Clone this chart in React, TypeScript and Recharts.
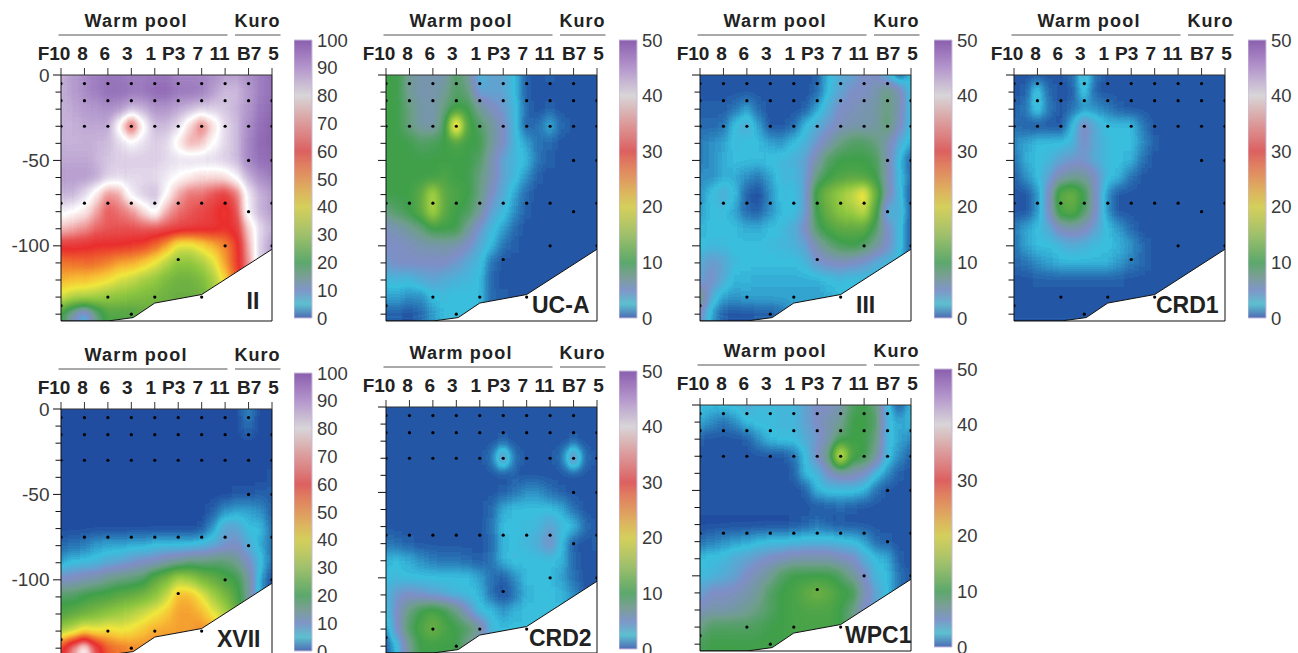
import { Area, Bar, BarChart, ComposedChart, ReferenceLine, Scatter, XAxis, YAxis } from "recharts";

const STATIONS = ["F10", "8", "6", "3", "1", "P3", "7", "11", "B7", "5"];
const DEPTH_TICKS = [0, -10, -20, -30, -40, -50, -60, -70, -80, -90, -100, -110, -120, -130, -140];
const GRID_DEPTHS = DEPTH_TICKS;
const GRID_COLUMNS = [0, 0.5, 1, 1.5, 2, 2.5, 3, 3.5, 4, 4.5, 5, 5.5, 6, 6.5, 7, 7.5, 8, 8.5, 9];

const FLOOR_X = [0, 2, 3.08, 4, 6, 9];
const FLOOR_DEPTH = [-144, -144, -142, -133.5, -128.5, -102];

// sampling depths per station
const SAMPLES = [
  [-5, -15, -30, -75, -135],
  [-5, -15, -30, -75, -145],
  [-5, -15, -30, -75, -130],
  [-5, -15, -30, -75, -140],
  [-5, -15, -30, -75, -130],
  [-5, -15, -30, -75, -108],
  [-5, -15, -30, -75, -130],
  [-5, -15, -30, -75, -100],
  [-5, -15, -30, -50, -80],
  [-15, -30, -50, -75, -100],
];

const GRID_II = [
  [88, 90, 92, 94, 95, 95, 94, 94, 95, 95, 93, 93, 93, 92, 90, 90, 92, 94, 96],
  [88, 90, 92, 94, 96, 96, 95, 95, 97, 97, 95, 95, 94, 90, 87, 87, 90, 94, 96],
  [88, 89, 90, 91, 92, 91, 87, 88, 91, 91, 89, 87, 85, 85, 86, 88, 91, 95, 97],
  [88, 88, 89, 89, 89, 79, 64, 79, 87, 87, 84, 76, 68, 76, 84, 87, 92, 96, 98],
  [88, 88, 88, 88, 87, 84, 81, 83, 85, 84, 78, 72, 74, 80, 84, 87, 93, 97, 98],
  [89, 89, 89, 88, 86, 85, 85, 85, 85, 84, 83, 84, 84, 84, 85, 87, 93, 96, 97],
  [90, 90, 90, 89, 85, 84, 84, 84, 84, 82, 80, 78, 76, 76, 77, 81, 88, 92, 94],
  [88, 88, 84, 78, 70, 72, 82, 85, 87, 80, 72, 68, 68, 65, 63, 68, 82, 88, 90],
  [82, 80, 78, 72, 66, 68, 70, 76, 82, 72, 68, 66, 64, 62, 58, 65, 82, 88, 90],
  [74, 72, 70, 67, 66, 65, 65, 66, 66, 65, 64, 63, 62, 62, 60, 62, 75, 84, 88],
  [62, 62, 61, 60, 60, 60, 59, 58, 54, 48, 39, 38, 42, 46, 50, 58, 72, 85, 90],
  [52, 53, 53, 53, 51, 48, 47, 44, 40, 35, 30, 30, 33, 38, 48, 58, 70, 85, 90],
  [46, 45, 45, 43, 41, 38, 36, 33, 31, 28, 26, 26, 28, 33, 42, 55, 70, 85, 90],
  [38, 35, 34, 33, 31, 30, 29, 28, 27, 26, 25, 25, 26, 30, 40, 55, 70, 85, 90],
  [20, 12, 6, 15, 22, 22, 22, 24, 25, 25, 25, 25, 26, 30, 40, 55, 70, 85, 90],
];

const GRID_UCA = [
  [10, 10, 7, 6, 6, 6, 9, 7, 3, 4, 4, 2.5, 0.5, 0.3, 0.5, 0.3, 0.3, 0.3, 0.3],
  [10, 10, 7, 6, 6, 7, 9, 8, 4, 4, 4, 2.5, 0.6, 0.3, 0.4, 0.3, 0.3, 0.3, 0.3],
  [10, 10, 8, 6.5, 6, 8, 10, 10, 7, 5.5, 4.5, 3, 0.8, 0.4, 0.5, 0.3, 0.3, 0.3, 0.3],
  [10, 10, 8, 6.5, 6, 9, 24, 11, 9, 7, 5, 3, 0.6, 1, 2.2, 0.8, 0.3, 0.3, 0.3],
  [10, 10, 10, 9, 9.5, 10, 11, 10, 10, 7, 5, 3, 2, 1, 0.8, 0.4, 0.3, 0.3, 0.3],
  [10, 10, 10, 10, 10, 10, 10, 10, 9, 6, 4, 3, 2.5, 1, 0.5, 0.3, 0.3, 0.3, 0.3],
  [10, 10, 10, 10, 10, 11, 10, 10, 8, 6, 4, 3, 1.5, 0.5, 0.3, 0.3, 0.3, 0.3, 0.3],
  [10, 10, 10, 12, 17, 12, 11, 10, 8, 5, 3.5, 2, 0.8, 0.3, 0.3, 0.3, 0.3, 0.3, 0.3],
  [8, 9, 10, 12, 17, 12, 10, 9.5, 7, 4, 3, 1.5, 0.5, 0.3, 0.3, 0.3, 0.3, 0.3, 0.3],
  [5.5, 6, 7, 8, 10, 10, 10, 7, 4.5, 3, 2, 0.8, 0.3, 0.3, 0.3, 0.3, 0.3, 0.3, 0.3],
  [5, 5, 5.5, 6, 6, 6.5, 6, 5, 3.5, 2.5, 1, 0.5, 0.3, 0.3, 0.3, 0.3, 0.3, 0.3, 0.3],
  [4.5, 5, 5, 5, 5, 5, 4.5, 3.5, 3, 1, 0.4, 0.3, 0.3, 0.3, 0.3, 0.3, 0.3, 0.3, 0.3],
  [3, 3, 3, 3.5, 4, 3.5, 3.2, 3, 2.5, 0.8, 0.3, 0.3, 0.3, 0.3, 0.3, 0.3, 0.3, 0.3, 0.3],
  [2.2, 2, 1.5, 1.5, 2.5, 2.8, 2.6, 2.6, 2.5, 0.8, 0.5, 0.3, 0.3, 0.3, 0.3, 0.3, 0.3, 0.3, 0.3],
  [0.5, 0.5, 0.4, 0.8, 1.8, 2.5, 2.5, 2.5, 2.5, 0.8, 0.5, 0.3, 0.3, 0.3, 0.3, 0.3, 0.3, 0.3, 0.3],
];

const GRID_III = [
  [0.3, 0.3, 0.3, 0.3, 0.3, 0.3, 0.3, 0.3, 0.3, 0.3, 0.5, 2.5, 3.5, 4, 5, 5, 3, 0.3, 2.5],
  [0.3, 0.3, 0.3, 0.3, 0.3, 0.3, 0.3, 0.3, 0.3, 0.3, 0.8, 2.5, 4, 5, 5, 6, 8, 6, 2.5],
  [0.5, 0.5, 0.5, 1, 2, 0.8, 0.3, 0.3, 0.3, 0.5, 2, 3.5, 5, 5.5, 6, 6.5, 8, 6, 2.5],
  [0.8, 0.8, 1, 2.8, 3.5, 2, 0.4, 0.3, 0.8, 2.5, 3.5, 4.5, 5.5, 6, 6, 6.5, 8.5, 5.5, 2.5],
  [1.2, 1.5, 2, 2.8, 2.6, 2.6, 2, 1.8, 2.5, 3.2, 4.5, 6, 8, 9, 9, 8, 6, 3.5, 2.2],
  [1.2, 1.5, 2.2, 2.5, 2.5, 2.6, 2.8, 3, 3.2, 4, 6, 9, 10, 10, 10, 9.5, 6, 2.5, 0.5],
  [1.5, 1.5, 2.2, 2.2, 1.5, 1.2, 2, 3, 3, 4, 8, 10, 11, 11.5, 11, 10, 6, 2.8, 1],
  [1.5, 2.8, 3.5, 2.5, 0.6, 0.2, 1.5, 2.8, 2.5, 4, 11, 14, 16, 18, 21, 13, 6, 3, 0.6],
  [2, 2.5, 2.8, 2, 0.8, 0.6, 1.5, 2.5, 2.5, 4, 10, 13, 15, 16, 18, 11, 3, 3.5, 0.5],
  [2.3, 2.5, 2.5, 2.5, 2.2, 2.2, 2.5, 2.8, 3.5, 5, 9, 11, 12, 12, 12, 9, 5, 3, 0.6],
  [2.6, 2.8, 2.8, 2.6, 2.6, 2.6, 2.8, 3, 3.2, 4, 6, 8, 9.5, 10, 9, 7, 5, 3, 0.6],
  [3.5, 4.5, 4, 2.8, 2.5, 2.5, 2.6, 2.6, 2.6, 3, 4.5, 5, 5.5, 5, 4.5, 3.5, 3, 2.5, 0.6],
  [4, 5, 3.5, 2.4, 2.3, 2.2, 2.2, 2.2, 2.2, 2.2, 2.2, 2.5, 2.8, 2.5, 2.5, 2.5, 2.5, 2.5, 0.6],
  [8, 3.5, 2, 1.8, 2, 2, 2, 2, 2, 2, 2, 2.2, 2.5, 2.5, 2.5, 2.5, 2.5, 2.5, 0.6],
  [5, 2, 0.5, 0.4, 0.4, 0.5, 0.6, 1, 2, 2, 2, 2.2, 2.5, 2.5, 2.5, 2.5, 2.5, 2.5, 0.6],
];

const GRID_CRD1 = [
  [0.3, 0.3, 0.3, 0.3, 0.3, 1, 3.5, 1, 0.3, 0.3, 0.3, 0.3, 0.3, 0.3, 0.3, 0.3, 0.3, 0.3, 0.3],
  [0.3, 0.6, 3.2, 0.8, 0.3, 0.6, 3, 0.6, 0.3, 0.3, 0.3, 0.3, 0.3, 0.3, 0.3, 0.3, 0.3, 0.3, 0.3],
  [0.5, 1.2, 3.2, 1.2, 0.3, 1, 1.5, 1.5, 1.2, 0.6, 0.4, 0.3, 0.3, 0.3, 0.3, 0.3, 0.3, 0.3, 0.3],
  [1, 0.6, 0.3, 0.3, 0.3, 2.5, 5.5, 3.5, 2.5, 2.5, 2.5, 1.2, 0.3, 0.3, 0.3, 0.3, 0.3, 0.3, 0.3],
  [1.5, 2, 2.5, 2.5, 2.6, 3, 5, 3.5, 2.8, 2.6, 2.5, 1.5, 0.5, 0.3, 0.3, 0.3, 0.3, 0.3, 0.3],
  [1, 2.2, 2.6, 3, 4, 4.5, 4.5, 3.5, 2.8, 2.6, 2.3, 1, 0.3, 0.3, 0.3, 0.3, 0.3, 0.3, 0.3],
  [0.6, 1.5, 2.5, 4, 6, 7, 7, 5, 2.8, 2.4, 1, 0.4, 0.3, 0.3, 0.3, 0.3, 0.3, 0.3, 0.3],
  [0.3, 0.4, 1.5, 5, 12, 13, 10, 5, 1.5, 0.4, 0.3, 0.3, 0.3, 0.3, 0.3, 0.3, 0.3, 0.3, 0.3],
  [0.3, 0.4, 1.5, 5, 11, 12, 9, 5, 1.5, 0.4, 0.3, 0.3, 0.3, 0.3, 0.3, 0.3, 0.3, 0.3, 0.3],
  [1.2, 2, 2.6, 3.5, 5.5, 6, 5.5, 4, 2.6, 1.8, 0.8, 0.3, 0.3, 0.3, 0.3, 0.3, 0.3, 0.3, 0.3],
  [1, 2, 2.5, 2.6, 3, 3.5, 3.2, 2.8, 2.6, 2.3, 1.8, 0.8, 0.3, 0.3, 0.3, 0.3, 0.3, 0.3, 0.3],
  [0.7, 1, 1.5, 2, 2.3, 2.4, 2.4, 2.4, 2.3, 1.8, 1.2, 0.8, 0.4, 0.3, 0.3, 0.3, 0.3, 0.3, 0.3],
  [0.4, 0.4, 0.5, 0.6, 0.6, 0.6, 0.6, 0.6, 0.6, 0.5, 0.4, 0.3, 0.3, 0.3, 0.3, 0.3, 0.3, 0.3, 0.3],
  [0.3, 0.3, 0.3, 0.3, 0.3, 0.3, 0.3, 0.3, 0.3, 0.3, 0.3, 0.3, 0.3, 0.3, 0.3, 0.3, 0.3, 0.3, 0.3],
  [0.3, 0.3, 0.3, 0.3, 0.3, 0.3, 0.3, 0.3, 0.3, 0.3, 0.3, 0.3, 0.3, 0.3, 0.3, 0.3, 0.3, 0.3, 0.3],
];

const GRID_XVII = [
  [0.5, 0.5, 0.5, 0.5, 0.5, 0.5, 0.5, 0.5, 0.5, 0.5, 0.5, 0.5, 0.5, 0.5, 0.5, 0.5, 3, 0.5, 0.5],
  [0.5, 0.5, 0.5, 0.5, 0.5, 0.5, 0.5, 0.5, 0.5, 0.5, 0.5, 0.5, 0.5, 0.5, 0.5, 0.5, 2, 0.5, 0.5],
  [0.5, 0.5, 0.5, 0.5, 0.5, 0.5, 0.5, 0.5, 0.5, 0.5, 0.5, 0.5, 0.5, 0.5, 0.5, 0.5, 0.5, 0.5, 0.5],
  [0.5, 0.5, 0.5, 0.5, 0.5, 0.5, 0.5, 0.5, 0.5, 0.5, 0.5, 0.5, 0.5, 0.5, 0.5, 0.5, 0.5, 0.5, 0.5],
  [0.5, 0.5, 0.5, 0.5, 0.5, 0.5, 0.5, 0.5, 0.5, 0.5, 0.5, 0.5, 0.5, 0.5, 0.5, 0.5, 0.5, 0.5, 0.6],
  [0.5, 0.5, 0.5, 0.5, 0.5, 0.5, 0.5, 0.5, 0.5, 0.5, 0.5, 0.5, 0.5, 0.5, 0.5, 0.6, 0.8, 1, 1],
  [0.4, 0.4, 0.4, 0.4, 0.4, 0.4, 0.4, 0.4, 0.4, 0.4, 0.4, 0.4, 0.5, 1, 3, 4, 4, 3, 1],
  [0.3, 0.3, 0.3, 0.3, 0.3, 0.3, 0.3, 0.3, 0.3, 0.3, 0.4, 0.5, 0.8, 3.5, 8, 8, 5, 5, 2],
  [1.5, 2, 2.5, 3.5, 4, 4, 4.5, 4.5, 5, 5, 5, 5, 6, 7, 9, 10, 7, 4.5, 2],
  [4, 5, 5.5, 6, 7, 8, 9, 10, 11, 13, 14, 16, 16, 17, 17, 15, 10, 6, 2],
  [10, 11, 12, 13, 15, 16, 17, 18, 24, 28, 34, 32, 28, 25, 22, 20, 14, 4, 0.5],
  [18, 18, 20, 21, 22, 24, 25, 27, 30, 36, 46, 46, 40, 33, 28, 22, 14, 4, 0.5],
  [22, 24, 26, 28, 30, 32, 34, 37, 40, 44, 48, 48, 46, 40, 34, 25, 14, 4, 0.5],
  [32, 36, 42, 40, 42, 40, 41, 44, 47, 48, 48, 48, 50, 48, 40, 25, 14, 4, 0.5],
  [58, 70, 80, 65, 55, 52, 50, 50, 50, 50, 50, 50, 50, 48, 40, 25, 14, 4, 0.5],
];

const GRID_CRD2 = [
  [0.3, 0.3, 0.3, 0.3, 0.3, 0.3, 0.3, 0.3, 0.3, 0.3, 0.3, 0.3, 0.3, 0.3, 0.3, 0.3, 0.3, 0.3, 0.3],
  [0.3, 0.3, 0.3, 0.3, 0.3, 0.3, 0.3, 0.3, 0.3, 0.3, 0.3, 0.3, 0.3, 0.3, 0.3, 0.3, 0.3, 0.3, 0.3],
  [0.3, 0.3, 0.3, 0.3, 0.3, 0.3, 0.3, 0.3, 0.3, 0.3, 0.5, 0.3, 0.3, 0.3, 0.3, 0.3, 0.5, 0.3, 0.3],
  [0.3, 0.3, 0.3, 0.3, 0.3, 0.3, 0.3, 0.3, 0.3, 1, 5, 1, 0.3, 0.3, 0.3, 1, 5.5, 1, 0.3],
  [0.3, 0.3, 0.3, 0.3, 0.3, 0.3, 0.3, 0.3, 0.3, 0.3, 0.4, 0.5, 0.3, 0.3, 0.3, 0.3, 0.4, 0.3, 0.3],
  [0.3, 0.3, 0.3, 0.3, 0.3, 0.3, 0.3, 0.3, 0.3, 0.3, 0.5, 1, 1.5, 1.5, 1, 0.5, 0.3, 0.3, 0.3],
  [0.3, 0.3, 0.3, 0.3, 0.3, 0.3, 0.3, 0.3, 0.3, 0.8, 2.2, 2.6, 2.6, 2.6, 2.6, 2.2, 1, 0.3, 0.3],
  [0.3, 0.3, 0.3, 0.3, 0.3, 0.3, 0.3, 0.3, 0.3, 1, 2.5, 2.6, 2.7, 3, 4, 3, 2.5, 1, 0.3],
  [1.2, 0.8, 0.5, 0.3, 0.3, 0.3, 0.3, 0.3, 0.3, 0.8, 2.4, 2.6, 3, 3.5, 5, 2.5, 0.5, 0.4, 0.5],
  [2.3, 2.5, 2.2, 1.5, 1.2, 1, 1, 0.8, 0.6, 1, 2.3, 2.7, 2.6, 2.6, 2.5, 2.3, 0.7, 0.3, 0.3],
  [2.8, 2.8, 2.6, 2.6, 2.6, 2.5, 2.5, 2.5, 2, 1, 0.6, 1.5, 2.5, 2.6, 2.6, 2, 1, 0.4, 0.3],
  [3, 4.5, 5, 4.5, 4, 3.5, 3, 2.8, 2.4, 1, 0.2, 1, 2.4, 2.5, 2.5, 2.3, 1.5, 0.5, 0.3],
  [2.5, 5, 8, 10, 11, 10, 8, 5, 2.8, 2.5, 1.8, 2.4, 2.5, 2.5, 2.5, 2.5, 2, 1, 0.3],
  [1.5, 5, 9, 11, 13, 11, 10, 9, 7, 3, 2.5, 2.5, 2.5, 2.5, 2.5, 2.5, 2, 1, 0.3],
  [0.5, 2.5, 7, 10, 10, 10, 10, 7, 5, 3, 2.5, 2.5, 2.5, 2.5, 2.5, 2.5, 2, 1, 0.3],
];

const GRID_WPC1 = [
  [2.5, 2.5, 2.8, 3, 3.5, 3, 3, 3, 3, 4, 5, 5, 6, 9, 10, 8, 3, 0.3, 2.5],
  [2.2, 1.5, 1, 1.5, 2.5, 2.7, 2.8, 3, 3, 4, 5, 6, 7, 10, 10, 9, 3, 2, 2.5],
  [0.5, 0.4, 0.3, 0.3, 0.6, 1.5, 2.5, 2.8, 2.8, 3.5, 4.5, 6, 9, 10, 10, 8, 3, 2, 1.5],
  [0.3, 0.3, 0.3, 0.3, 0.3, 0.3, 0.3, 0.4, 1, 2.5, 5, 8, 20, 11, 10, 7, 3, 1.5, 0.6],
  [0.3, 0.3, 0.3, 0.3, 0.3, 0.3, 0.3, 0.3, 0.5, 2.5, 3, 5, 6, 6, 5, 3, 1.5, 0.5, 0.3],
  [0.3, 0.3, 0.3, 0.3, 0.3, 0.3, 0.3, 0.3, 0.3, 0.5, 2.3, 2.7, 2.8, 2.7, 2.3, 1, 0.3, 0.3, 0.3],
  [0.3, 0.3, 0.3, 0.3, 0.3, 0.3, 0.3, 0.3, 0.3, 0.3, 0.3, 0.5, 0.8, 0.6, 0.3, 0.3, 0.3, 0.3, 0.3],
  [0.2, 0.2, 0.2, 0.2, 0.2, 0.2, 0.2, 0.2, 0.3, 0.6, 1, 0.6, 0.3, 0.3, 0.3, 0.3, 0.3, 0.3, 0.3],
  [1, 1.2, 1.5, 1.8, 2, 2.3, 2.5, 2.6, 2.8, 3, 3, 3, 2.8, 2.5, 2, 0.8, 0.5, 0.4, 0.4],
  [2.5, 2.7, 3, 3.5, 4, 4.5, 5, 5.5, 6, 6, 6, 6, 5.5, 5, 3.5, 2.6, 2.2, 0.5, 0.3],
  [2.8, 3, 3.5, 4, 5, 6, 7, 9, 10, 10, 10, 10, 9, 7, 5, 3, 2.5, 1, 0.3],
  [4, 5, 5, 5.5, 6, 7, 9, 10, 10.5, 12, 13, 12, 10.5, 10, 6, 4, 2.5, 1, 0.3],
  [5.5, 6, 6, 6.5, 7, 8, 9, 10, 10.5, 11, 11, 11, 10, 8, 5, 4, 2.5, 1, 0.3],
  [7.5, 9, 9, 9, 9, 9.5, 10, 10, 10.5, 10.5, 10.5, 10.5, 10, 8, 5, 4, 2.5, 1, 0.3],
  [9.5, 10, 10, 10, 10, 10, 10, 10, 10.5, 10.5, 10.5, 10.5, 10, 8, 5, 4, 2.5, 1, 0.3],
];

const TICKS_100 = [0, 10, 20, 30, 40, 50, 60, 70, 80, 90, 100];
const TICKS_50 = [0, 10, 20, 30, 40, 50];

// colour tables, equal steps from 0 to full scale
const COLOR_TABLE = [
  "#20449b", "#38bfde", "#7f8fc8", "#6f9e8c", "#3fa04a", "#6aae44", "#8cc63f",
  "#bcd548", "#f0e73d", "#f8be35", "#f28a2f", "#ee5b2e", "#ea2d2d", "#e85050",
  "#ee8f8f", "#f6cfcf", "#ffffff", "#dccfe6", "#b89fd0", "#9a78bd", "#8557a8",
];
const BAR_TABLE = [
  "#4f6cb4", "#5cc0cf", "#7f96c8", "#7a9f94", "#5ca86c", "#7db46a", "#9fc06c",
  "#bcc864", "#d4cf5c", "#dcb65e", "#e09a60", "#e07f60", "#dc6060", "#dc7e7e",
  "#dc9a9a", "#dab8b8", "#d8d5d8", "#c6b6d2", "#b496cc", "#a07abd", "#8a5fae",
];

const PANELS = [
  { grid: GRID_II, max: 100, name: "II", x: 60.5, y: 75.3, nameX: 185.5, nameY: 234, barX: 294, barTop: 39.5, labels: true },
  { grid: GRID_UCA, max: 50, name: "UC-A", x: 385.7, y: 75.3, nameX: 146, nameY: 238, barX: 619, barTop: 39.5, labels: false },
  { grid: GRID_III, max: 50, name: "III", x: 700.3, y: 75.3, nameX: 156, nameY: 238, barX: 934, barTop: 39.5, labels: false },
  { grid: GRID_CRD1, max: 50, name: "CRD1", x: 1014, y: 75.3, nameX: 142, nameY: 238, barX: 1247.5, barTop: 39.5, labels: false },
  { grid: GRID_XVII, max: 100, name: "XVII", x: 60.5, y: 409, nameX: 156, nameY: 238, barX: 294, barTop: 373, labels: true },
  { grid: GRID_CRD2, max: 50, name: "CRD2", x: 385.7, y: 407, nameX: 143, nameY: 238.5, barX: 619, barTop: 371.3, labels: false },
  { grid: GRID_WPC1, max: 50, name: "WPC1", x: 700.3, y: 405, nameX: 145, nameY: 238, barX: 934, barTop: 369.3, labels: false },
];

const PLOT_W = 211;
const PLOT_H = 246;
const M_LEFT = 70;
const M_TOP = 75;
const BAR_W = 18;
const BAR_H = 278;
const CELL_W = 12.2;
const CELL_H = 18;
const LABEL_DX = [-7, -2, -3, -4, -4, -4.5, -4, -5.5, 0.5, 1.5];
const INK = "#3a3a3a";

const floorData = FLOOR_X.map((x, i) => ({ x, depth: FLOOR_DEPTH[i] }));
const dotData = SAMPLES.flatMap((depths, i) => depths.map((depth) => ({ x: i, depth })));

function cellsOf(grid: number[][], max: number) {
  return GRID_DEPTHS.flatMap((depth, r) =>
    GRID_COLUMNS.map((x, c) => ({ x, depth, level: Math.round((grid[r][c] / max) * 255) }))
  );
}

function HeatCell(props: any) {
  const g = props.payload.level;
  return (
    <rect
      x={props.cx - CELL_W / 2}
      y={props.cy - CELL_H / 2}
      width={CELL_W}
      height={CELL_H}
      fill={`rgb(${g},${g},${g})`}
    />
  );
}

function Dot(props: any) {
  return <circle cx={props.cx} cy={props.cy} r={1.6} fill="#000" />;
}

function Panel({ panel }: { panel: (typeof PANELS)[number] }) {
  const StationTick = (p: any) => (
    <text
      x={p.x + LABEL_DX[p.payload.value]}
      y={M_TOP - 15}
      textAnchor="middle"
      fontSize={19}
      fontWeight={700}
      fill="#222"
    >
      {STATIONS[p.payload.value]}
    </text>
  );
  const DepthTick = (p: any) => {
    const major = p.payload.value % 50 === 0;
    return (
      <g>
        <line x1={M_LEFT - (major ? 8 : 5.5)} x2={M_LEFT} y1={p.y} y2={p.y} stroke="#111" />
        {panel.labels && major && (
          <text x={M_LEFT - 11.5} y={p.y + 6.5} textAnchor="end" fontSize={19} fill={INK}>
            {p.payload.value}
          </text>
        )}
      </g>
    );
  };
  return (
    <div style={{ position: "absolute", left: panel.x - M_LEFT, top: panel.y - M_TOP }}>
      <ComposedChart
        width={M_LEFT + PLOT_W + 10}
        height={M_TOP + PLOT_H + 10}
        data={floorData}
        margin={{ top: M_TOP - 1, left: M_LEFT - 1, right: 10, bottom: 10 }}
      >
        <XAxis
          dataKey="x"
          type="number"
          orientation="top"
          domain={[0, 9]}
          ticks={STATIONS.map((_, i) => i)}
          height={1}
          allowDataOverflow
          interval={0}
          tickSize={7}
          tick={StationTick}
          stroke="#333"
        />
        <YAxis
          dataKey="depth"
          type="number"
          domain={[-144, 0]}
          ticks={DEPTH_TICKS}
          width={1}
          allowDataOverflow
          interval={0}
          tickLine={false}
          tick={DepthTick}
          stroke="#111"
        />
        <Scatter
          data={cellsOf(panel.grid, panel.max)}
          shape={HeatCell}
          className="heat"
          isAnimationActive={false}
          zIndex={100}
        />
        <Area
          dataKey="depth"
          type="linear"
          baseValue={-144}
          fill="#fff"
          fillOpacity={1}
          stroke="#111"
          strokeWidth={1}
          dot={false}
          activeDot={false}
          isAnimationActive={false}
          zIndex={200}
        />
        <ReferenceLine x={9} stroke="#111" zIndex={250} />
        <ReferenceLine y={-144} stroke="#111" zIndex={250} />
        <Scatter data={dotData} shape={Dot} isAnimationActive={false} zIndex={300} />
        <text x={M_LEFT + 23.5} y={M_TOP - 48} fontSize={18} fontWeight={700} letterSpacing={1.2} fill="#222">
          Warm pool
        </text>
        <text x={M_LEFT + 173.5} y={M_TOP - 48} fontSize={18} fontWeight={700} letterSpacing={1} fill="#222">
          Kuro
        </text>
        <line x1={M_LEFT - 2.5} x2={M_LEFT + 166.5} y1={M_TOP - 40} y2={M_TOP - 40} stroke="#555" />
        <line x1={M_LEFT + 174} x2={M_LEFT + 219.5} y1={M_TOP - 40} y2={M_TOP - 40} stroke="#555" />
      </ComposedChart>
      <svg
        width={M_LEFT + PLOT_W + 10}
        height={M_TOP + PLOT_H + 10}
        style={{ position: "absolute", left: 0, top: 0, pointerEvents: "none" }}
      >
        <text x={M_LEFT + panel.nameX} y={M_TOP + panel.nameY} fontSize={23} fontWeight={700} fill="#222">
          {panel.name}
        </text>
      </svg>
    </div>
  );
}

function ColorBar({ panel }: { panel: (typeof PANELS)[number] }) {
  return (
    <div style={{ position: "absolute", left: panel.barX, top: panel.barTop - 12 }}>
      <BarChart
        width={BAR_W + 42}
        height={BAR_H + 24}
        data={[{ name: "scale", value: panel.max }]}
        margin={{ top: 12, bottom: 12, left: 0, right: 0 }}
        barCategoryGap={0}
      >
        <XAxis dataKey="name" hide />
        <YAxis
          orientation="right"
          domain={[0, panel.max]}
          ticks={panel.max === 100 ? TICKS_100 : TICKS_50}
          width={42}
          interval={0}
          tickLine={false}
          axisLine={false}
          tickMargin={5}
          tickSize={0}
          tick={{ fontSize: 18.5, fill: INK }}
        />
        <Bar dataKey="value" fill="url(#barScale)" stroke="#c9bbdd" isAnimationActive={false} />
      </BarChart>
    </div>
  );
}

export default function App() {
  return (
    <div
      style={{
        position: "absolute",
        left: 0,
        top: 0,
        width: 1298,
        height: 653,
        overflow: "hidden",
        background: "#fff",
        fontFamily: "'Liberation Sans', Arial, sans-serif",
      }}
    >
      <style>{`.heat { filter: url(#heatFilter); clip-path: url(#plotClip); }`}</style>
      <svg width={0} height={0} style={{ position: "absolute" }}>
        <defs>
          <filter
            id="heatFilter"
            x="-10%"
            y="-10%"
            width="120%"
            height="120%"
            colorInterpolationFilters="sRGB"
          >
            <feGaussianBlur stdDeviation="4.5 6.5" />
            <feComponentTransfer>
              <feFuncR type="table" tableValues={COLOR_TABLE.map((c) => parseInt(c.slice(1, 3), 16) / 255).join(" ")} />
              <feFuncG type="table" tableValues={COLOR_TABLE.map((c) => parseInt(c.slice(3, 5), 16) / 255).join(" ")} />
              <feFuncB type="table" tableValues={COLOR_TABLE.map((c) => parseInt(c.slice(5, 7), 16) / 255).join(" ")} />
              <feFuncA type="linear" slope={30} />
            </feComponentTransfer>
          </filter>
          <clipPath id="plotClip">
            <rect x={M_LEFT} y={M_TOP} width={PLOT_W} height={PLOT_H} />
          </clipPath>
          <linearGradient id="barScale" x1="0" y1="1" x2="0" y2="0">
            {BAR_TABLE.map((c, i) => (
              <stop key={i} offset={i / (BAR_TABLE.length - 1)} stopColor={c} />
            ))}
          </linearGradient>
        </defs>
      </svg>
      {PANELS.map((p) => (
        <div key={p.name}>
          <Panel panel={p} />
          <ColorBar panel={p} />
        </div>
      ))}
    </div>
  );
}
